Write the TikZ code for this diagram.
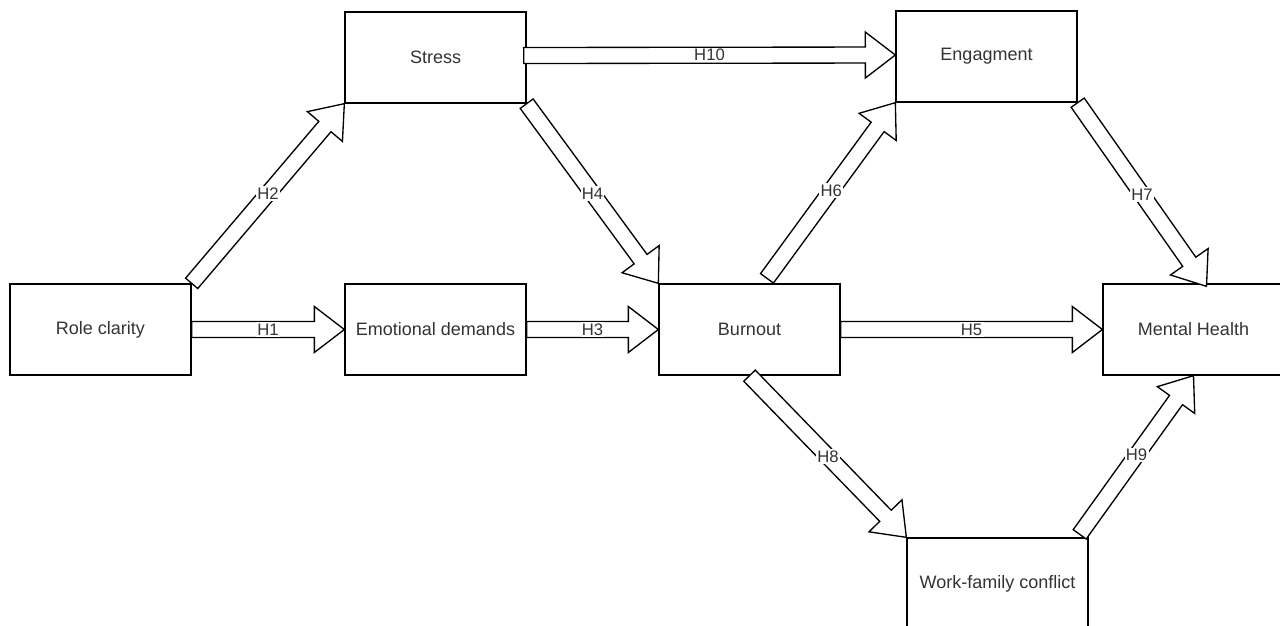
\documentclass[tikz,border=0pt]{standalone}
\usepackage{fontspec}
\setmainfont{Liberation Sans}
\usetikzlibrary{calc}

\begin{document}
\begin{tikzpicture}[
        x=0.75pt, y=-0.75pt,
        box/.style={rectangle, draw, line width=1pt, minimum width=135.75pt, minimum height=68.25pt, font=\fontsize{13.5}{15}\selectfont, text=black!80},
        hyplabel/.style={fill=white, inner sep=1pt, font=\fontsize{12.5}{14}\selectfont, text=black!80},
        hyp/.style={fill=white, line width=1pt,
            to path={let \p1=(\tikztostart), \p2=(\tikztotarget), \p3=($(\p2)!22.5pt!(\p1)$) in
                ($(\p1)!6pt!90:(\p2)$) -- ($(\p3)!6pt!90:(\p2)$) -- ($(\p3)!17.25pt!90:(\p2)$) -- (\p2)
                -- ($(\p3)!17.25pt!-90:(\p2)$) -- ($(\p3)!6pt!-90:(\p2)$) -- ($(\p1)!6pt!-90:(\p2)$) -- cycle
                node[hyplabel] at ($(\p1)!0.5!(\p2)$) {#1}}}
    ]
    \path[use as bounding box, clip] (0,0) rectangle (1280,625);

    % Constructs
    \node[box] (rc) at (100.5,329.5) {Role clarity};
    \node[box] (emo) at (435.5,329.5) {Emotional demands};
    \node[box] (stress) at (435.5,57.5) {Stress};
    \node[box] (burnout) at (749.5,329.5) {Burnout};
    \node[box] (eng) at (986.5,56.5) {Engagment};
    \node[box] (mh) at (1193.5,329.5) {Mental Health};
    \node[box] (wfc) at (997.5,583.5) {Work-family conflict};

    % Hypotheses
    \draw[hyp=H1] (rc.east) to (emo.west);
    \draw[hyp=H2] (rc.north east) to (stress.south west);
    \draw[hyp=H3] (emo.east) to (burnout.west);
    \draw[hyp=H4] (stress.south east) to (burnout.north west);
    \draw[hyp=H5] (burnout.east) to (mh.west);
    \draw[hyp=H6] ($(burnout.north)+(17.5,-5)$) to (eng.south west);
    \draw[hyp=H7] (eng.south east) to ($(mh.north)+(13,3)$);
    \draw[hyp=H8] (burnout.south) to (wfc.north west);
    \draw[hyp=H9] ($(wfc.north east)+(-9,-3)$) to (mh.south);
    \draw[hyp=H10] ($(stress.east)+(-3,-2)$) to ($(eng.west)+(0,-1.5)$);

\end{tikzpicture}
\end{document}
